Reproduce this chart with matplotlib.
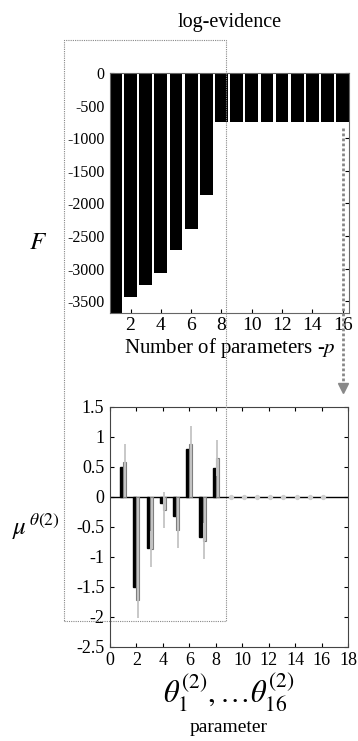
import matplotlib
matplotlib.use("Agg")
import matplotlib.pyplot as plt
from matplotlib.patches import Rectangle
from matplotlib.lines import Line2D
import numpy as np

plt.rcParams['font.family'] = ['Liberation Serif', 'DejaVu Serif']
plt.rcParams['mathtext.fontset'] = 'stix'
plt.rcParams['axes.unicode_minus'] = False

# log-evidence per model size
n_params = np.arange(1, 17)
log_ev = [-3800, -3430, -3250, -3060, -2715, -2390, -1870,
          -760, -760, -760, -760, -760, -760, -760, -760, -760]

# posterior means of theta(2): estimated (black) vs second estimate (grey)
param_idx = np.arange(1, 17)
mu_black = [0.49, -1.50, -0.85, -0.10, -0.32, 0.80, -0.68, 0.48,
            0, 0, 0, 0, 0, 0, 0, 0]
mu_grey = [0.58, -1.73, -0.88, -0.22, -0.56, 0.88, -0.74, 0.64,
           0, 0, 0, 0, 0, 0, 0, 0]
mu_err = [0.3, 0.3, 0.3, 0.3, 0.3, 0.3, 0.3, 0.3,
          0, 0, 0, 0, 0, 0, 0, 0]

fig = plt.figure(figsize=(3.58, 7.41), dpi=100)

# ---- top: log-evidence
ax1 = fig.add_axes([0.307, 0.5776, 0.668, 0.324])
ax1.bar(n_params, log_ev, width=0.84, color='black', edgecolor='none')
ax1.set_xlim(0.64, 16.42)
ax1.set_ylim(-3680, 0)
ax1.set_xticks(np.arange(2, 17, 2))
ax1.set_yticks(np.arange(-3500, 1, 500))
ax1.tick_params(direction='in', length=3, right=True, pad=4)
ax1.tick_params(axis='y', labelsize=11.5)
ax1.tick_params(axis='x', labelsize=14, pad=3)
for s in ax1.spines.values():
    s.set_color('#666666')
    s.set_linewidth(0.8)
ax1.set_title('log-evidence', fontsize=14.5, pad=33)
ax1.set_xlabel('Number of parameters -$p$', fontsize=15, labelpad=1)
ax1.set_ylabel('$F$', fontsize=18, rotation=0, va='center', ha='center')
ax1.yaxis.set_label_coords(-0.30, 0.29)

# ---- bottom: parameter means
ax2 = fig.add_axes([0.307, 0.1273, 0.665, 0.324])
bw = 0.22
xb = param_idx - 0.12
xg = param_idx + 0.12
nz = np.array(mu_err) > 0
ax2.bar(xb[nz], np.array(mu_black)[nz], width=bw, color='black', edgecolor='black', zorder=2)
ax2.bar(xg[nz], np.array(mu_grey)[nz], width=bw, color='#c8c8c8', edgecolor='#7f7f7f',
        linewidth=0.8, zorder=2)
ax2.errorbar(xg[nz], np.array(mu_grey)[nz], yerr=np.array(mu_err)[nz], fmt='none',
             ecolor='#c4c4c4', elinewidth=1.3, capsize=0, zorder=3)
ax2.axhline(0, color='black', linewidth=1.0, zorder=1)
ax2.plot(xg[~nz], np.array(mu_grey)[~nz], 'o', color='#d0d0d0', markersize=2.8, zorder=4)
ax2.set_xlim(0, 18)
ax2.set_ylim(-2.5, 1.5)
ax2.set_xticks(np.arange(0, 19, 2))
ax2.set_yticks([-2.5, -2, -1.5, -1, -0.5, 0, 0.5, 1, 1.5])
ax2.set_yticklabels(['-2.5', '-2', '-1.5', '-1', '-0.5', '0', '0.5', '1', '1.5'])
ax2.tick_params(direction='in', labelsize=13, length=3, right=True, top=True, pad=4)
for s in ax2.spines.values():
    s.set_color('#444444')
    s.set_linewidth(0.8)
ax2.set_xlabel(r'$\theta_1^{(2)}, \ldots\theta_{16}^{(2)}$', fontsize=22, labelpad=2)
ax2.set_ylabel(r'$\mu^{\,\theta(2)}$', fontsize=18, rotation=0, va='center', ha='center')
ax2.yaxis.set_label_coords(-0.31, 0.50)
fig.text(0.5 * (0.307 + 0.972), 1 - 728 / 741, 'parameter', fontsize=14,
         ha='center', va='center')

# ---- dotted highlight box and arrow
fig.add_artist(Rectangle((64 / 358, 1 - 621 / 741), (226 - 64) / 358, (621 - 40) / 741,
                         transform=fig.transFigure, fill=False, edgecolor='#888888',
                         linestyle=(0, (1, 1)), linewidth=0.8))
ax_x = 343.3 / 358
fig.add_artist(Line2D([ax_x, ax_x], [1 - 128 / 741, 1 - 386 / 741], transform=fig.transFigure,
                      color='#888888', linestyle=(0, (1, 0.8)), linewidth=2.0))
fig.add_artist(Line2D([ax_x], [1 - 388 / 741], transform=fig.transFigure, marker='v',
                      markersize=7, color='#888888', linestyle='none'))

fig.savefig('out.png', dpi=100)
